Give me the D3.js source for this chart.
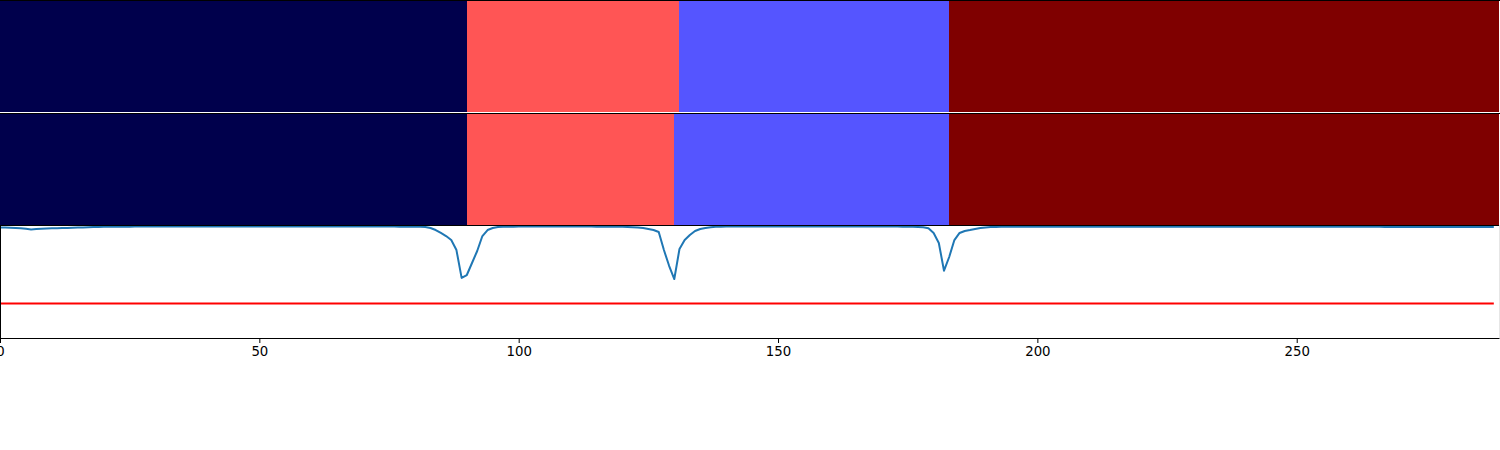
<!DOCTYPE html>
<html>
<head>
<meta charset="utf-8">
<script src="https://cdn.jsdelivr.net/npm/d3@7"></script>
<style>
  html, body { margin: 0; padding: 0; background: #ffffff; }
  svg { display: block; }
</style>
</head>
<body>
<svg id="chart" width="1500" height="450"></svg>
<script>
// ---- data ----
const xTicks = [0, 50, 100, 150, 200, 250];
const xMax = 289;

// segment rows: [start, end, label]
const segStarts1 = [0, 90, 131, 183];
const segEnds1   = [90, 131, 183, 289];
const segLabels1 = [0, 2, 1, 3];

const segStarts2 = [0, 90, 130, 183];
const segEnds2   = [90, 130, 183, 289];
const segLabels2 = [0, 2, 1, 3];

const labelColors = ["#00004c", "#5555ff", "#ff5555", "#7f0000"];

const threshold = 0.5;

const similarity = [
  0.993, 0.993, 0.992, 0.991, 0.989, 0.985, 0.981, 0.983, 0.985, 0.987,
  0.988, 0.989, 0.990, 0.991, 0.992, 0.993, 0.994, 0.995, 0.996, 0.997,
  0.998, 0.998, 0.999, 0.999, 0.999, 0.999, 1.000, 1.000, 1.000, 1.000,
  1.000, 1.000, 1.000, 1.000, 1.000, 1.000, 1.000, 1.000, 1.000, 1.000,
  1.000, 1.000, 1.000, 1.000, 1.000, 1.000, 1.000, 1.000, 1.000, 1.000,
  1.000, 1.000, 1.000, 1.000, 1.000, 1.000, 1.000, 1.000, 1.000, 1.000,
  1.000, 1.000, 1.000, 1.000, 1.000, 1.000, 1.000, 1.000, 1.000, 1.000,
  1.000, 1.000, 1.000, 1.000, 1.000, 1.000, 1.000, 0.999, 0.999, 0.999,
  0.999, 0.998, 0.997, 0.990, 0.977, 0.958, 0.938, 0.912, 0.847, 0.666,
  0.685, 0.763, 0.841, 0.938, 0.977, 0.990, 0.997, 0.998, 0.999, 0.999,
  1.000, 1.000, 1.000, 1.000, 1.000, 1.000, 1.000, 1.000, 1.000, 1.000,
  1.000, 1.000, 1.000, 1.000, 1.000, 0.999, 0.999, 0.999, 0.999, 0.998,
  0.998, 0.997, 0.995, 0.993, 0.990, 0.984, 0.977, 0.964, 0.847, 0.745,
  0.659, 0.854, 0.912, 0.945, 0.971, 0.984, 0.990, 0.995, 0.998, 0.999,
  1.000, 1.000, 1.000, 1.000, 1.000, 1.000, 1.000, 1.000, 1.000, 1.000,
  1.000, 1.000, 1.000, 1.000, 1.000, 1.000, 1.000, 1.000, 1.000, 1.000,
  1.000, 1.000, 1.000, 1.000, 1.000, 1.000, 1.000, 1.000, 1.000, 1.000,
  1.000, 1.000, 1.000, 1.000, 0.999, 0.999, 0.998, 0.997, 0.995, 0.988,
  0.958, 0.893, 0.713, 0.802, 0.912, 0.958, 0.971, 0.977, 0.984, 0.990,
  0.994, 0.996, 0.997, 0.998, 0.998, 0.999, 0.999, 0.999, 0.999, 0.999,
  0.999, 0.999, 0.999, 0.999, 0.999, 0.999, 0.999, 0.999, 0.999, 0.999,
  0.999, 0.999, 0.999, 0.999, 0.999, 0.999, 0.999, 0.999, 0.999, 0.999,
  0.999, 0.999, 0.999, 0.999, 0.999, 0.999, 0.999, 0.999, 0.999, 0.999,
  0.999, 0.999, 0.999, 0.999, 0.999, 0.999, 0.999, 0.999, 0.999, 0.999,
  0.999, 0.999, 0.999, 0.999, 0.999, 0.999, 0.999, 0.999, 0.999, 0.999,
  0.999, 0.999, 0.999, 0.999, 0.999, 0.999, 0.999, 0.999, 0.999, 0.999,
  0.999, 0.999, 0.999, 0.999, 0.999, 0.998, 0.998, 0.997, 0.997, 0.996,
  0.996, 0.996, 0.996, 0.996, 0.996, 0.996, 0.996, 0.996, 0.996, 0.996,
  0.996, 0.996, 0.996, 0.996, 0.996, 0.996, 0.996, 0.996, 0.996
];

// ---- layout ----
const svg = d3.select("#chart");
const left = 0, right = 1499;
const p1 = {top: 0, bottom: 112.5};
const p2 = {top: 112.5, bottom: 225};
const p3 = {top: 225, bottom: 338};

const x = d3.scaleLinear().domain([0, xMax]).range([left, right]);
const y = d3.scaleLinear().domain([0.276, 1.0097]).range([p3.bottom, p3.top]);

function drawSegments(starts, ends, labels, panel) {
  const rows = starts.map((s, i) => ({s, e: ends[i], l: labels[i]}));
  svg.append("g").selectAll("rect").data(rows).join("rect")
    .attr("x", d => x(d.s))
    .attr("width", d => x(d.e) - x(d.s))
    .attr("y", panel.top)
    .attr("height", panel.bottom - panel.top)
    .attr("fill", d => labelColors[d.l])
    .attr("shape-rendering", "crispEdges");
}
drawSegments(segStarts1, segEnds1, segLabels1, p1);
drawSegments(segStarts2, segEnds2, segLabels2, p2);

// spines between panels
svg.append("line").attr("x1", left).attr("x2", right + 1).attr("y1", 0.5).attr("y2", 0.5)
  .attr("stroke", "#000").attr("stroke-width", 1);
svg.append("line").attr("x1", left).attr("x2", right + 1).attr("y1", 112.5).attr("y2", 112.5)
  .attr("stroke", "#fff").attr("stroke-width", 1);
svg.append("line").attr("x1", left).attr("x2", right + 1).attr("y1", 113.5).attr("y2", 113.5)
  .attr("stroke", "#000").attr("stroke-width", 1);

// line panel
const g3 = svg.append("g");
g3.append("path")
  .datum(similarity)
  .attr("fill", "none")
  .attr("stroke", "#1f77b4")
  .attr("stroke-width", 2)
  .attr("stroke-linejoin", "round")
  .attr("d", d3.line().x((d, i) => x(i)).y(d => y(d)));

g3.append("path")
  .datum(similarity.map(() => threshold))
  .attr("fill", "none")
  .attr("stroke", "#ff0000")
  .attr("stroke-width", 2)
  .attr("d", d3.line().x((d, i) => x(i)).y(d => y(d)));

// panel 3 spines
svg.append("line").attr("x1", left).attr("x2", right + 1).attr("y1", 225.5).attr("y2", 225.5)
  .attr("stroke", "#000").attr("stroke-width", 1);
svg.append("line").attr("x1", 0.5).attr("x2", 0.5).attr("y1", p3.top).attr("y2", p3.bottom)
  .attr("stroke", "#000").attr("stroke-width", 1);
svg.append("line").attr("x1", 1499.5).attr("x2", 1499.5).attr("y1", p3.top).attr("y2", p3.bottom)
  .attr("stroke", "#e6e6e6").attr("stroke-width", 1);

// x axis
const xAxis = d3.axisBottom(x).tickValues(xTicks).tickSize(5).tickSizeOuter(0).tickPadding(4);
const ax = svg.append("g").attr("transform", `translate(0,${p3.bottom})`).call(xAxis);
ax.select(".domain").attr("stroke", "#000").attr("stroke-width", 1.2);
ax.selectAll(".tick line").attr("stroke", "#000").attr("stroke-width", 1);
ax.selectAll(".tick text")
  .attr("fill", "#000")
  .style("font-family", "DejaVu Sans, sans-serif")
  .style("font-size", "13.3px");
</script>
</body>
</html>
